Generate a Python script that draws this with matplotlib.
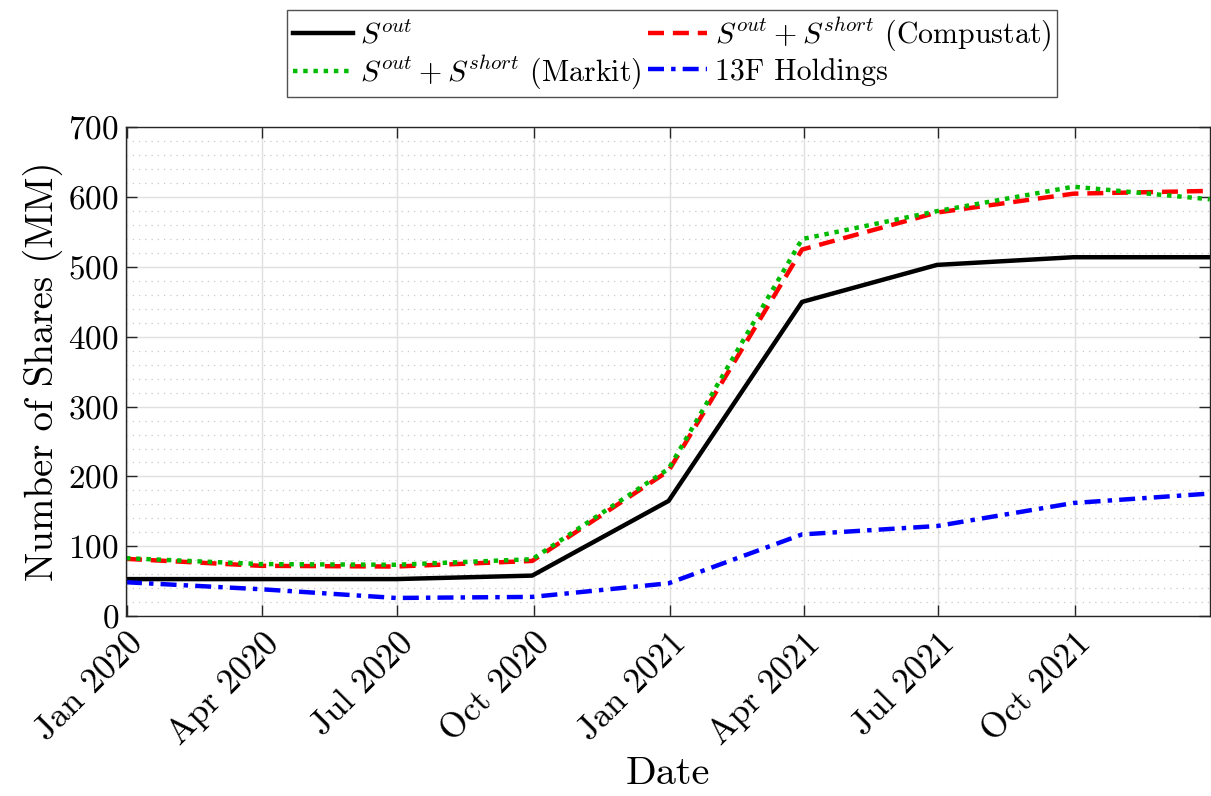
import matplotlib
matplotlib.use("Agg")
import matplotlib.pyplot as plt
import matplotlib.dates as mdates
from matplotlib.ticker import MultipleLocator
import numpy as np
import datetime as dt

# ---- data (quarter-end observations, millions of shares) ----
dates = ["2019-12-31", "2020-03-31", "2020-06-30", "2020-09-30", "2020-12-31",
         "2021-03-31", "2021-06-30", "2021-09-30", "2021-12-31"]
s_out = [53, 53, 53, 58, 165, 450, 503, 514, 514]
s_compustat = [82, 72, 71, 79, 208, 525, 578, 605, 609]
s_markit = [83, 74.5, 73.5, 81.5, 211, 540, 580, 615, 597]
holdings_13f = [48.5, 38.5, 26, 27.5, 47, 117, 129, 162, 175.5]

labels = [r"$S^{out}$",
          r"$S^{out} + S^{short}$ (Markit)",
          r"$S^{out} + S^{short}$ (Compustat)",
          "13F Holdings"]

plt.rcParams["font.family"] = "serif"
plt.rcParams["font.serif"] = ["cmr10"]
plt.rcParams["mathtext.fontset"] = "cm"
plt.rcParams["axes.formatter.use_mathtext"] = True

x = [dt.datetime.strptime(d, "%Y-%m-%d") for d in dates]

fig = plt.figure(figsize=(12.11, 7.96), dpi=100)
ax = fig.add_axes([0.104, 0.226, 0.895, 0.614])

lw = 3.2
l1, = ax.plot(x, s_out, color="black", lw=lw, linestyle="-")
l3, = ax.plot(x, s_compustat, color="#ff0000", lw=lw, linestyle=(0, (3.6, 2.0)))
l2, = ax.plot(x, s_markit, color="#00bb00", lw=lw, linestyle=(0, (1.0, 1.3)))
l4, = ax.plot(x, holdings_13f, color="#0000ff", lw=lw, linestyle=(0, (3.6, 1.6, 1.0, 1.6)))

ax.set_xlim(x[0], x[-1])
ax.set_ylim(0, 700)
ax.yaxis.set_major_locator(MultipleLocator(100))
ax.yaxis.set_minor_locator(MultipleLocator(20))
ax.xaxis.set_major_locator(mdates.MonthLocator(bymonth=[1, 4, 7, 10]))
ax.xaxis.set_major_formatter(mdates.DateFormatter("%b %Y"))

ax.grid(True, which="major", color="#e0e0e0", lw=1.0, ls="-")
ax.grid(True, which="minor", axis="y", color="#c8c8c8", lw=0.9, ls=(0, (1, 4)))
ax.set_axisbelow(True)

for sp in ax.spines.values():
    sp.set_color("#262626")
    sp.set_linewidth(1.0)

ax.tick_params(axis="both", which="major", direction="in", length=8, width=1.0,
               color="#262626", top=True, right=True, labelsize=24, pad=5)
ax.tick_params(axis="x", which="major", labelsize=25.5, pad=8)
ax.tick_params(axis="y", which="minor", direction="in", length=0)
for lab in ax.get_xticklabels():
    lab.set_rotation(45)
    lab.set_ha("right")
    lab.set_rotation_mode("anchor")

ax.set_xlabel("Date", fontsize=29, labelpad=4)
ax.set_ylabel("Number of Shares (MM)", fontsize=28, labelpad=4)

leg = fig.legend([l1, l2, l3, l4], labels, ncol=2, loc="upper center",
                 bbox_to_anchor=(0.555, 0.995), fontsize=21.5, frameon=True,
                 fancybox=False, edgecolor="#262626", handlelength=2.0,
                 handletextpad=0.25, columnspacing=0.2, labelspacing=0.15,
                 borderpad=0.2, borderaxespad=0.2)
leg.get_frame().set_linewidth(1.0)

fig.savefig("out.png", dpi=100)
